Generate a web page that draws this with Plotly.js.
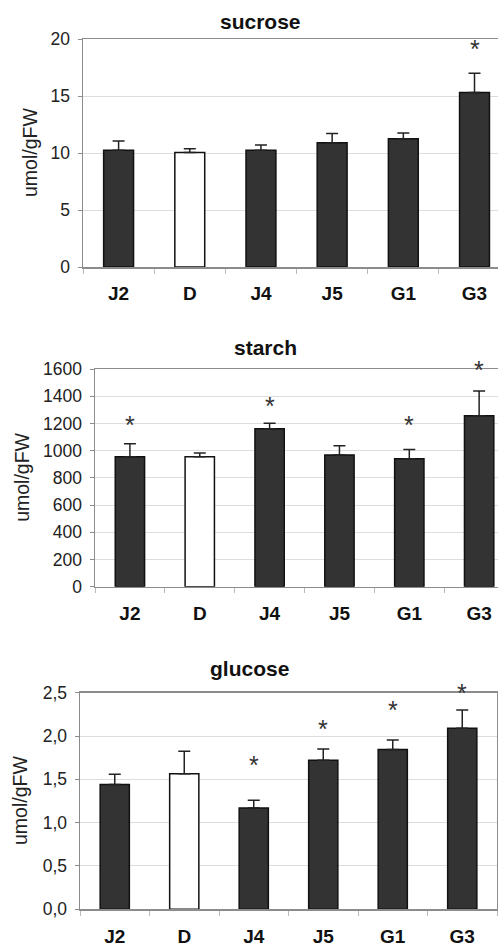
<!DOCTYPE html>
<html>
<head>
<meta charset="utf-8">
<script src="https://cdn.plot.ly/plotly-3.0.1.min.js"></script>
<style>html,body{margin:0;padding:0;background:#fff;}#chart{width:498px;height:948px;}</style>
</head>
<body>
<div id="chart"></div>
<script>
// ---- data ----
const categories = ['J2', 'D', 'J4', 'J5', 'G1', 'G3'];

const sucroseMean = [10.25, 10.05, 10.25, 10.9, 11.25, 15.3];
const sucroseErr  = [0.8, 0.33, 0.45, 0.8, 0.5, 1.7];
const sucroseStar = [null, null, null, null, null, 19.5];

const starchMean = [955, 955, 1160, 968, 940, 1257];
const starchErr  = [95, 27, 42, 68, 68, 182];
const starchStar = [1220, null, 1360, null, 1220, 1620];

const glucoseMean = [1.44, 1.565, 1.17, 1.72, 1.845, 2.09];
const glucoseErr  = [0.12, 0.26, 0.09, 0.13, 0.11, 0.21];
const glucoseStar = [null, null, 1.71, 2.13, 2.345, 2.54];

const panelTitles = ['sucrose', 'starch', 'glucose'];
const yTitle = 'umol/gFW';

// ---- styles ----
const barFill = ['#333333', '#ffffff', '#333333', '#333333', '#333333', '#333333'];
const W = 498, H = 948;
const FONT = 'Liberation Sans, Arial, sans-serif';

// pixel geometry of each panel
const geo = [
  {l: 83, r: 498, t: 39,    b: 267,   xEnd: 5.33, yMax: 20,   dtick: 5,   fmt: 'd',   mirrorY: false, titleX: 260, titleY: 21,  yTitleX: 30},
  {l: 95, r: 498, t: 369,   b: 586.7, xEnd: 5.27, yMax: 1600, dtick: 200, fmt: 'd',   mirrorY: false, titleX: 265, titleY: 348, yTitleX: 22},
  {l: 80, r: 497, t: 692.7, b: 909.3, xEnd: 5.5,  yMax: 2.5,  dtick: 0.5, fmt: '.1f', mirrorY: true,  titleX: 249, titleY: 668, yTitleX: 20}
];

const means = [sucroseMean, starchMean, glucoseMean];
const errs  = [sucroseErr, starchErr, glucoseErr];
const stars = [sucroseStar, starchStar, glucoseStar];

const traces = [];
const layout = {
  width: W, height: H,
  margin: {l: 0, r: 0, t: 0, b: 0},
  paper_bgcolor: '#ffffff', plot_bgcolor: '#ffffff',
  showlegend: false,
  separators: ',.',
  bargap: 0.58,
  font: {family: FONT, color: '#222'},
  annotations: []
};

for (let i = 0; i < 3; i++) {
  const g = geo[i];
  const xa = 'x' + (i === 0 ? '' : (i + 1));
  const ya = 'y' + (i === 0 ? '' : (i + 1));
  const yDom = [1 - g.b / H, 1 - g.t / H];
  traces.push({
    type: 'bar', x: categories, y: means[i], xaxis: xa, yaxis: ya,
    marker: {color: barFill, line: {color: '#111', width: 1.5}},
    error_y: {type: 'data', symmetric: false, array: errs[i], arrayminus: categories.map(() => 0),
              color: '#222', thickness: 1.5, width: 6},
    hoverinfo: 'skip'
  });
  const xk = 'xaxis' + (i === 0 ? '' : (i + 1));
  const yk = 'yaxis' + (i === 0 ? '' : (i + 1));
  layout[xk] = {
    domain: [g.l / W, g.r / W], anchor: ya, type: 'category',
    range: [-0.5, g.xEnd],
    showline: true, linecolor: '#8c8c8c', linewidth: 1.5, mirror: true,
    ticks: 'outside', tickson: 'boundaries', ticklen: 5, tickcolor: '#bbbbbb', tickwidth: 1,
    tickfont: {family: FONT, size: 19, color: '#111', weight: 'bold'},
    ticklabelstandoff: 9,
    showgrid: false, fixedrange: true
  };
  layout[yk] = {
    domain: yDom, anchor: xa,
    range: [0, g.yMax], dtick: g.dtick, tick0: 0, tickformat: g.fmt,
    showline: true, linecolor: '#8c8c8c', linewidth: 1.5, mirror: g.mirrorY,
    ticks: 'outside', ticklen: 4, tickcolor: '#8c8c8c',
    tickfont: {family: FONT, size: 17.5, color: '#222'},
    ticklabelstandoff: 4,
    showgrid: true, gridcolor: '#dddddd', gridwidth: 1,
    zeroline: false, fixedrange: true
  };
  // significance asterisks (y mapped through the panel's linear value scale so
  // that marks just above the axis top are still drawn)
  stars[i].forEach((v, k) => {
    if (v === null) return;
    layout.annotations.push({
      text: '*', xref: xa, yref: 'paper', x: categories[k],
      y: yDom[0] + (v / g.yMax) * (yDom[1] - yDom[0]),
      xanchor: 'center', yanchor: 'middle', yshift: -4,
      showarrow: false, font: {family: FONT, size: 25, color: '#333'}
    });
  });
  layout.annotations.push({
    text: panelTitles[i], xref: 'paper', yref: 'paper',
    x: g.titleX / W, y: 1 - g.titleY / H, xanchor: 'center', yanchor: 'middle',
    showarrow: false, font: {family: FONT, size: 21, color: '#111', weight: 'bold'}
  });
  layout.annotations.push({
    text: yTitle, xref: 'paper', yref: 'paper', textangle: -90,
    x: g.yTitleX / W, y: 1 - ((g.t + g.b) / 2) / H, xanchor: 'center', yanchor: 'middle',
    showarrow: false, font: {family: FONT, size: 19.5, color: '#222'}
  });
}

Plotly.newPlot('chart', traces, layout, {staticPlot: true, displayModeBar: false});
</script>
</body>
</html>
